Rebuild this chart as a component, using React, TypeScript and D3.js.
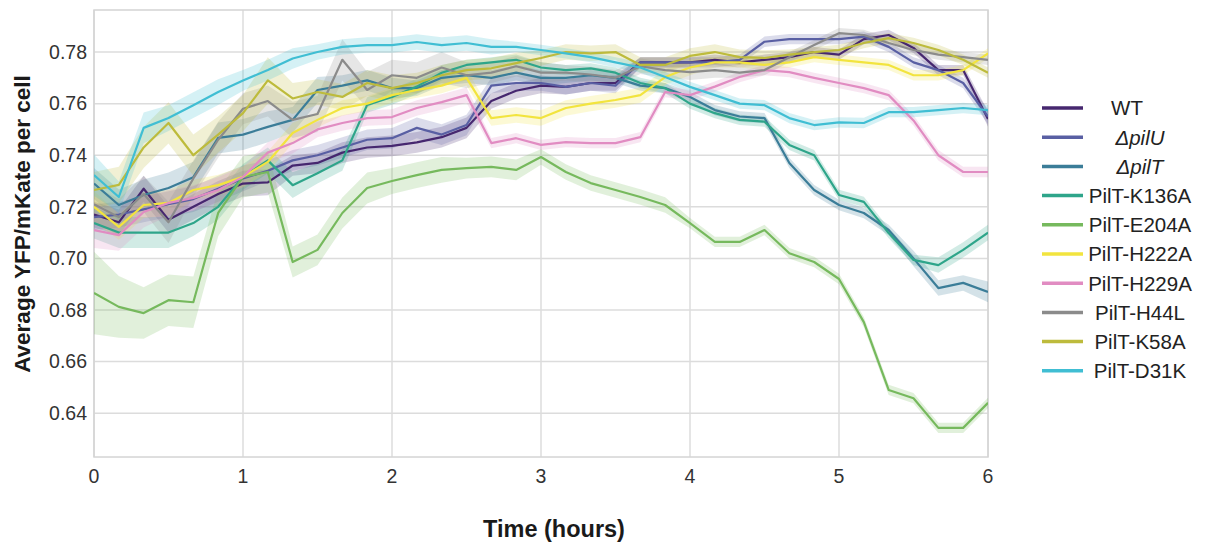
import React from "react";
import * as d3 from "d3";

// sampling times (minutes after start)
const minutes = [
  0, 10, 20, 30, 40, 50, 60, 70, 80, 90, 100, 110, 120, 130, 140, 150, 160, 170, 180,
  190, 200, 210, 220, 230, 240, 250, 260, 270, 280, 290, 300, 310, 320, 330, 340, 350, 360,
];

const hourTicks = [0, 1, 2, 3, 4, 5, 6];
const yTicks = [0.64, 0.66, 0.68, 0.7, 0.72, 0.74, 0.76, 0.78];

// mean YFP/mKate per strain
const wt = [
  0.717, 0.714, 0.727, 0.715, 0.72, 0.725, 0.729, 0.7295, 0.736, 0.737, 0.741, 0.743, 0.7436,
  0.745, 0.747, 0.7506, 0.761, 0.765, 0.767, 0.7665, 0.768, 0.768, 0.776, 0.776, 0.776, 0.777,
  0.776, 0.777, 0.778, 0.78, 0.779, 0.785, 0.7866, 0.7816, 0.773, 0.773, 0.754,
];
const pilU = [
  0.716, 0.717, 0.719, 0.721, 0.723, 0.727, 0.731, 0.734, 0.738, 0.74, 0.743, 0.746, 0.7466,
  0.7506, 0.748, 0.7517, 0.767, 0.768, 0.768, 0.7665, 0.768, 0.767, 0.776, 0.776, 0.776, 0.776,
  0.777, 0.784, 0.785, 0.785, 0.785, 0.786, 0.782, 0.776, 0.773, 0.768, 0.755,
];
const pilT = [
  0.729, 0.7207, 0.7246, 0.7273, 0.7315, 0.7467, 0.748, 0.751, 0.7537, 0.7653, 0.767, 0.769,
  0.766, 0.766, 0.77, 0.771, 0.77, 0.772, 0.77, 0.77, 0.771, 0.77, 0.767, 0.766, 0.7626, 0.7575,
  0.755, 0.7544, 0.737, 0.7265, 0.7207, 0.7176, 0.711, 0.7, 0.6885, 0.6905, 0.687,
];
const k136a = [
  0.7137, 0.71, 0.71, 0.71, 0.7137, 0.72, 0.7316, 0.738, 0.7284, 0.733, 0.738, 0.7595, 0.7626,
  0.7666, 0.772, 0.775, 0.776, 0.777, 0.774, 0.773, 0.7737, 0.772, 0.768, 0.766, 0.76, 0.7563,
  0.7537, 0.753, 0.744, 0.74, 0.7246, 0.7219, 0.7098, 0.6994, 0.6974, 0.7033, 0.71,
];
const e204a = [
  0.6866, 0.6812, 0.6788, 0.6838, 0.683, 0.7176, 0.7316, 0.7335, 0.6986, 0.7033, 0.7176, 0.7273,
  0.73, 0.7323, 0.7343, 0.735, 0.7355, 0.7343, 0.7393, 0.7335, 0.7292, 0.7265, 0.7238, 0.7207,
  0.7137, 0.7064, 0.7064, 0.711, 0.702, 0.6986, 0.692, 0.6753, 0.649, 0.6458, 0.6343, 0.6343, 0.644,
];
const h222a = [
  0.72, 0.7122, 0.7207, 0.7215, 0.7265, 0.7284, 0.7316, 0.7374, 0.7486, 0.7537, 0.7583, 0.76,
  0.7633, 0.7653, 0.767, 0.77, 0.7544, 0.7556, 0.7544, 0.7583, 0.76, 0.7614, 0.7633, 0.7703,
  0.774, 0.776, 0.776, 0.775, 0.776, 0.778, 0.777, 0.776, 0.775, 0.771, 0.771, 0.773, 0.7795,
];
const h229a = [
  0.711, 0.709, 0.718, 0.7215, 0.7234, 0.7265, 0.7316, 0.741, 0.7447, 0.75, 0.7525, 0.7544,
  0.7548, 0.7583, 0.7606, 0.7633, 0.7447, 0.7466, 0.744, 0.7451, 0.7447, 0.7447, 0.747, 0.7645,
  0.7633, 0.7666, 0.7703, 0.773, 0.7722, 0.77, 0.768, 0.766, 0.7633, 0.7535, 0.74, 0.7335, 0.7335,
];
const h44l = [
  0.721, 0.716, 0.725, 0.714, 0.731, 0.746, 0.758, 0.761, 0.7537, 0.756, 0.777, 0.7653, 0.771,
  0.77, 0.774, 0.771, 0.772, 0.7745, 0.772, 0.772, 0.7713, 0.77, 0.7745, 0.773, 0.7722, 0.773,
  0.772, 0.773, 0.778, 0.7827, 0.7873, 0.7866, 0.7835, 0.7808, 0.779, 0.778, 0.777,
];
const k58a = [
  0.7265, 0.7285, 0.743, 0.7525, 0.74, 0.748, 0.7563, 0.769, 0.762, 0.7645, 0.7626, 0.768, 0.766,
  0.768, 0.771, 0.773, 0.7737, 0.7757, 0.7777, 0.78, 0.7795, 0.78, 0.775, 0.775, 0.7785, 0.78,
  0.778, 0.7777, 0.779, 0.78, 0.7808, 0.7835, 0.7854, 0.7835, 0.7808, 0.777, 0.772,
];
const d31k = [
  0.7323, 0.7238, 0.7506, 0.7544, 0.7594, 0.7645, 0.769, 0.773, 0.7775, 0.78, 0.782, 0.7827,
  0.7827, 0.7839, 0.7827, 0.7835, 0.782, 0.782, 0.7808, 0.7795, 0.778, 0.776, 0.774, 0.7703,
  0.7665, 0.7633, 0.76, 0.7594, 0.7544, 0.7517, 0.7527, 0.7525, 0.7567, 0.7567, 0.7575, 0.7583, 0.7575,
];

// 95% CI half widths, in thousandths
const ciWt = [5, 5, 5, 5, 5, 5, 5, 5, 4, 4, 4, 4, 4, 4, 4, 4, 3, 3, 3, 3, 3, 3, 2, 2, 2, 2, 2, 2, 2, 2, 2, 2, 2, 2, 2, 2, 3];
const ciPilU = [5, 5, 5, 5, 5, 5, 5, 4, 4, 4, 4, 4, 4, 4, 4, 4, 3, 3, 3, 3, 3, 3, 2, 2, 2, 2, 2, 2, 2, 2, 2, 2, 2, 2, 2, 2, 3];
const ciPilT = [6, 6, 6, 6, 6, 6, 6, 6, 5, 5, 4, 4, 4, 3, 3, 3, 3, 3, 3, 2, 2, 2, 2, 2, 2, 2, 2, 2, 2, 2, 2, 2, 2, 3, 3, 3, 4];
const ciK136a = [6, 6, 6, 6, 5, 5, 5, 5, 5, 4, 4, 3, 3, 3, 3, 2, 2, 2, 2, 2, 2, 2, 2, 2, 2, 2, 2, 2, 2, 2, 2, 2, 2, 2, 3, 3, 3];
const ciE204a = [16, 12, 10, 10, 10, 9, 8, 8, 6, 6, 6, 6, 5, 5, 5, 4, 4, 4, 3, 3, 3, 3, 3, 3, 2, 2, 2, 2, 2, 2, 2, 2, 2, 2, 2, 2, 2];
const ciH222a = [6, 5, 5, 5, 4, 4, 4, 4, 4, 3, 3, 3, 3, 3, 3, 3, 3, 3, 3, 3, 3, 3, 3, 3, 3, 2, 2, 2, 2, 2, 2, 2, 2, 2, 2, 2, 2];
const ciH229a = [7, 6, 6, 5, 5, 5, 4, 4, 4, 3, 3, 3, 3, 3, 3, 3, 2, 2, 2, 2, 2, 2, 2, 2, 2, 2, 2, 2, 2, 2, 2, 2, 2, 2, 2, 2, 2];
const ciH44l = [7, 7, 7, 8, 7, 7, 6, 6, 7, 7, 8, 7, 6, 6, 6, 5, 4, 4, 4, 3, 3, 3, 3, 3, 3, 3, 2, 2, 2, 2, 2, 2, 2, 2, 2, 2, 2];
const ciK58a = [7, 7, 8, 8, 8, 7, 7, 9, 6, 5, 5, 5, 5, 4, 4, 4, 4, 4, 3, 3, 3, 3, 3, 3, 3, 3, 3, 3, 2, 2, 2, 2, 2, 2, 2, 2, 2];
const ciD31k = [8, 6, 6, 5, 5, 5, 4, 4, 4, 3, 3, 3, 3, 3, 3, 3, 3, 2, 2, 2, 2, 2, 2, 2, 2, 2, 2, 2, 2, 2, 2, 2, 2, 2, 2, 2, 2];

const strains = [
  { label: "WT", italic: false, values: wt, ci: ciWt, color: "#46276f" },
  { label: "ΔpilU", italic: true, values: pilU, ci: ciPilU, color: "#595fa3" },
  { label: "ΔpilT", italic: true, values: pilT, ci: ciPilT, color: "#3b7d98" },
  { label: "PilT-K136A", italic: false, values: k136a, ci: ciK136a, color: "#2ea58a" },
  { label: "PilT-E204A", italic: false, values: e204a, ci: ciE204a, color: "#76b95d" },
  { label: "PilT-H222A", italic: false, values: h222a, ci: ciH222a, color: "#f2e43e" },
  { label: "PilT-H229A", italic: false, values: h229a, ci: ciH229a, color: "#e18cc2" },
  { label: "PilT-H44L", italic: false, values: h44l, ci: ciH44l, color: "#8b8b8b" },
  { label: "PilT-K58A", italic: false, values: k58a, ci: ciK58a, color: "#bdbb3c" },
  { label: "PilT-D31K", italic: false, values: d31k, ci: ciD31k, color: "#40bed3" },
];

const W = 1212;
const H = 544;
const plot = { left: 94, right: 988, top: 10, bottom: 457 };

export default function App() {
  const x = d3.scaleLinear().domain([0, 6]).range([plot.left, plot.right]);
  const y = d3.scaleLinear().domain([0.623, 0.7963]).range([plot.bottom, plot.top]);

  const font = "'Liberation Sans', Arial, sans-serif";

  return (
    <svg
      width={W}
      height={H}
      style={{ position: "absolute", left: 0, top: 0, background: "#fff" }}
      fontFamily={font}
    >
      <defs>
        <clipPath id="plotClip">
          <rect x={plot.left} y={plot.top} width={plot.right - plot.left} height={plot.bottom - plot.top} />
        </clipPath>
      </defs>

      {/* grid */}
      {yTicks.map((t) => (
        <line key={"gy" + t} x1={plot.left} x2={plot.right} y1={y(t)} y2={y(t)} stroke="#dcdcdc" strokeWidth={1.5} />
      ))}
      {hourTicks.map((t) => (
        <line key={"gx" + t} x1={x(t)} x2={x(t)} y1={plot.top} y2={plot.bottom} stroke="#dcdcdc" strokeWidth={1.5} />
      ))}
      <rect
        x={plot.left}
        y={plot.top}
        width={plot.right - plot.left}
        height={plot.bottom - plot.top}
        fill="none"
        stroke="#d4d4d4"
        strokeWidth={1.5}
      />

      {/* bands and lines */}
      <g clipPath="url(#plotClip)">
        {strains.map((s) => {
          const pts = s.values.map((v, i) => ({ t: minutes[i] / 60, v, c: s.ci[i] / 1000 }));
          const band = d3
            .area<{ t: number; v: number; c: number }>()
            .x((d) => x(d.t))
            .y0((d) => y(d.v - d.c))
            .y1((d) => y(d.v + d.c));
          return <path key={"b" + s.label} d={band(pts) || ""} fill={s.color} opacity={0.22} />;
        })}
        {strains.map((s) => {
          const pts = s.values.map((v, i) => ({ t: minutes[i] / 60, v }));
          const line = d3
            .line<{ t: number; v: number }>()
            .x((d) => x(d.t))
            .y((d) => y(d.v));
          return (
            <path
              key={"l" + s.label}
              d={line(pts) || ""}
              fill="none"
              stroke={s.color}
              strokeWidth={2.2}
              strokeLinejoin="round"
            />
          );
        })}
      </g>

      {/* y ticks */}
      {yTicks.map((t) => (
        <text key={"ty" + t} x={plot.left - 7} y={y(t)} dy="0.35em" textAnchor="end" fontSize={19.5} fill="#333">
          {d3.format(".2f")(t)}
        </text>
      ))}
      {/* x ticks */}
      {hourTicks.map((t) => (
        <text key={"tx" + t} x={x(t)} y={483} textAnchor="middle" fontSize={19.5} fill="#333">
          {t}
        </text>
      ))}

      <text
        transform="translate(30,224) rotate(-90)"
        textAnchor="middle"
        fontSize={22.5}
        fontWeight="bold"
        fill="#1a1a1a"
      >
        Average YFP/mKate per cell
      </text>
      <text x={554} y={537} textAnchor="middle" fontSize={23.5} fontWeight="bold" fill="#1a1a1a">
        Time (hours)
      </text>

      {/* legend */}
      {strains.map((s, i) => {
        const ly = 108 + i * 29.2;
        return (
          <g key={"lg" + s.label}>
            <line x1={1042} x2={1083} y1={ly} y2={ly} stroke={s.color} strokeWidth={3.5} />
            <text
              x={s.label === "WT" ? 1127 : 1140}
              y={ly}
              dy="0.36em"
              textAnchor="middle"
              fontSize={20.5}
              fontStyle={s.italic ? "italic" : "normal"}
              fill="#222"
            >
              {s.label}
            </text>
          </g>
        );
      })}
    </svg>
  );
}
